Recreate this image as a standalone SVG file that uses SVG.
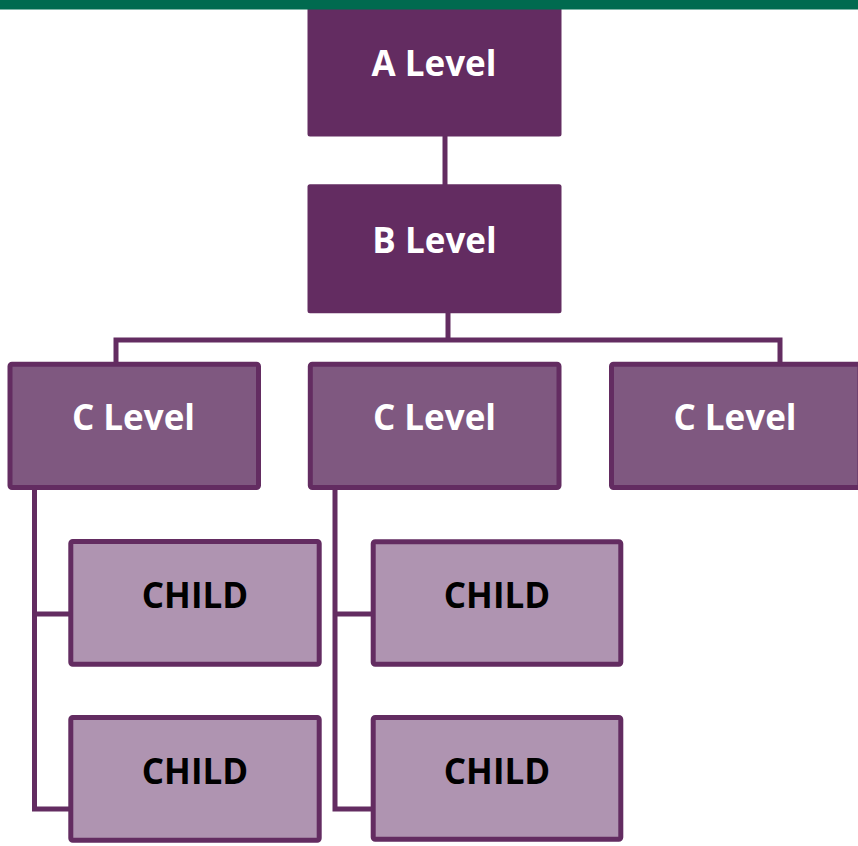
<svg xmlns="http://www.w3.org/2000/svg" width="858" height="846" viewBox="0 0 858 846">
<style>
.top{fill:#632c61}
.c{fill:#7f5880;stroke:#632c61;stroke-width:5}
.ch{fill:#af94b1;stroke:#632c61;stroke-width:5}
.ln{fill:none;stroke:#632c61;stroke-width:5}
text{font-family:"Open Sans","Liberation Sans",sans-serif;font-weight:bold;font-size:35px;text-anchor:middle}
.w{fill:#ffffff}
.k{fill:#000000}
</style>
<rect x="0" y="0" width="858" height="846" fill="#ffffff"/>
<g id="connectors">
<line class="ln" x1="445" y1="130" x2="445" y2="190"/>
<line class="ln" x1="448" y1="308" x2="448" y2="340"/>
<polyline class="ln" points="116,366 116,340 780,340 780,366"/>
<polyline class="ln" points="34.5,488 34.5,809 73,809"/>
<line class="ln" x1="34.5" y1="614" x2="73" y2="614"/>
<polyline class="ln" points="335,488 335,809 375,809"/>
<line class="ln" x1="335" y1="614" x2="375" y2="614"/>
</g>
<g id="a-level">
<rect class="top" x="307.5" y="4" width="254" height="132.5" rx="2.5"/>
<text class="w" x="434" y="76">A Level</text>
</g>
<g id="b-level">
<rect class="top" x="307.5" y="184.3" width="254" height="129" rx="2.5"/>
<text class="w" x="434.5" y="253">B Level</text>
</g>
<g id="c-level-1">
<rect class="c" x="10" y="364.2" width="248.5" height="123.3" rx="2"/>
<text class="w" x="133.5" y="430">C Level</text>
</g>
<g id="c-level-2">
<rect class="c" x="310.3" y="364.2" width="248.7" height="123.3" rx="2"/>
<text class="w" x="434.5" y="430">C Level</text>
</g>
<g id="c-level-3">
<rect class="c" x="611.5" y="364.2" width="248.5" height="123.3" rx="2"/>
<text class="w" x="735" y="430">C Level</text>
</g>
<g id="child-1">
<rect class="ch" x="70.8" y="541.5" width="248.4" height="122.7" rx="2"/>
<text class="k" x="195" y="607.5">CHILD</text>
</g>
<g id="child-2">
<rect class="ch" x="70.8" y="717.5" width="248.4" height="122.7" rx="2"/>
<text class="k" x="195" y="783.5">CHILD</text>
</g>
<g id="child-3">
<rect class="ch" x="373.2" y="541.8" width="247.6" height="122.4" rx="2"/>
<text class="k" x="497" y="607.5">CHILD</text>
</g>
<g id="child-4">
<rect class="ch" x="373.2" y="717.5" width="247.6" height="121.7" rx="2"/>
<text class="k" x="497" y="783.5">CHILD</text>
</g>
<g id="header">
<rect x="0" y="0" width="858" height="9.5" fill="#006a4f"/>
</g>
</svg>
